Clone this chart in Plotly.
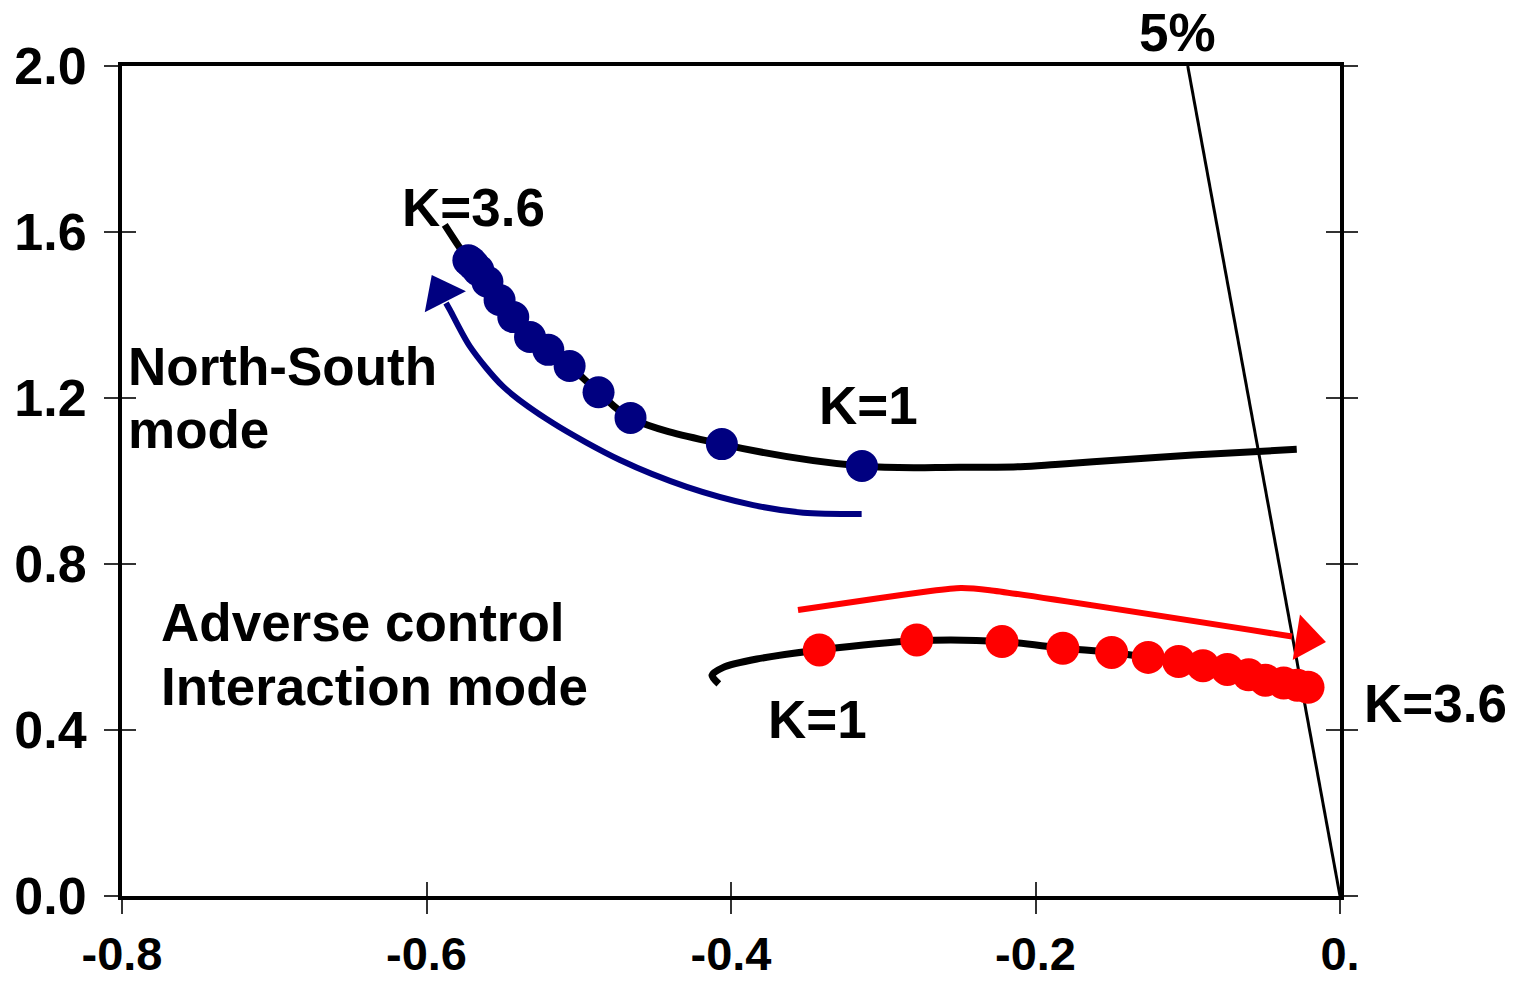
import plotly.graph_objects as go

# ---------------- data ----------------
# North-South mode eigenvalue locus, K = 1.0 ... 3.6 (step 0.2)
ns_x = [-0.314, -0.406, -0.466, -0.487, -0.506, -0.520, -0.532, -0.543,
        -0.552, -0.560, -0.566, -0.569, -0.571, -0.5725]
ns_y = [1.036, 1.089, 1.152, 1.214, 1.277, 1.316, 1.347, 1.395,
        1.436, 1.480, 1.508, 1.520, 1.528, 1.532]
# full locus curve (K beyond marker range)
ns_curve_x = [-0.0284, -0.0966, -0.1622, -0.187, -0.2100, -0.2496, -0.314, -0.406,
              -0.466, -0.487, -0.506, -0.520, -0.532, -0.543, -0.552, -0.560,
              -0.566, -0.5715, -0.588]
ns_curve_y = [1.0764, 1.0627, 1.0465, 1.040, 1.0345, 1.033, 1.036, 1.089,
              1.152, 1.214, 1.277, 1.316, 1.347, 1.395, 1.436, 1.480,
              1.508, 1.528, 1.617]

# Adverse control interaction mode locus, K = 1.0 ... 3.6
ac_x = [-0.342, -0.278, -0.222, -0.182, -0.150, -0.126, -0.106, -0.090,
        -0.074, -0.060, -0.049, -0.037, -0.028, -0.021]
ac_y = [0.593, 0.617, 0.613, 0.597, 0.587, 0.575, 0.565, 0.555,
        0.546, 0.533, 0.520, 0.513, 0.508, 0.503]
ac_curve_x = [-0.408, -0.4125, -0.405, -0.383, -0.342, -0.278, -0.222, -0.182,
              -0.150, -0.126, -0.106, -0.090, -0.074, -0.060, -0.049, -0.037,
              -0.028, -0.021]
ac_curve_y = [0.511, 0.532, 0.551, 0.571, 0.593, 0.615, 0.613, 0.597,
              0.587, 0.575, 0.565, 0.555, 0.546, 0.533, 0.520, 0.513,
              0.508, 0.503]

# direction arrows (shaft points and arrowhead centre)
ns_arrow_x = [-0.3142, -0.3525, -0.3854, -0.4291, -0.4729, -0.5167, -0.5496,
              -0.5714, -0.5846, -0.5872]
ns_arrow_y = [0.9205, 0.9236, 0.942, 0.986, 1.0506, 1.139, 1.2273,
              1.3237, 1.412, 1.429]
ns_head_x = [-0.5906]
ns_head_y = [1.4535]

ac_arrow_x = [-0.356, -0.302, -0.269, -0.249, -0.230, -0.0315]
ac_arrow_y = [0.689, 0.718, 0.735, 0.742, 0.737, 0.6253]
ac_head_x = [-0.0222]
ac_head_y = [0.6198]

# 5% damping line
damp_x = [0.0, -0.1]
damp_y = [0.0, 2.0]

x_ticks = [-0.8, -0.6, -0.4, -0.2, 0.0]
x_ticktext = ["-0.8", "-0.6", "-0.4", "-0.2", "0."]
y_ticks = [0.0, 0.4, 0.8, 1.2, 1.6, 2.0]
y_ticktext = ["0.0", "0.4", "0.8", "1.2", "1.6", "2.0"]

BLUE = "#000080"
RED = "#ff0000"
FONT = "Liberation Sans, Arial, sans-serif"

fig = go.Figure()

fig.add_trace(go.Scatter(x=damp_x, y=damp_y, mode="lines",
                         line=dict(color="black", width=3), hoverinfo="skip"))

fig.add_trace(go.Scatter(x=ns_curve_x, y=ns_curve_y, mode="lines",
                         line=dict(color="black", width=7, shape="spline", smoothing=1.0)))
fig.add_trace(go.Scatter(x=ac_curve_x, y=ac_curve_y, mode="lines",
                         line=dict(color="black", width=7, shape="spline", smoothing=0.8)))

fig.add_trace(go.Scatter(x=ns_arrow_x, y=ns_arrow_y, mode="lines",
                         line=dict(color=BLUE, width=6, shape="spline", smoothing=0.8)))
fig.add_trace(go.Scatter(x=ns_head_x, y=ns_head_y, mode="markers",
                         marker=dict(symbol="triangle-up", size=40, color=BLUE, opacity=1,
                                     angle=-27, line=dict(width=0))))
fig.add_trace(go.Scatter(x=ac_arrow_x, y=ac_arrow_y, mode="lines",
                         line=dict(color=RED, width=6, shape="spline", smoothing=0.5)))
fig.add_trace(go.Scatter(x=ac_head_x, y=ac_head_y, mode="markers",
                         marker=dict(symbol="triangle-up", size=40, color=RED, opacity=1,
                                     angle=99, line=dict(width=0))))

fig.add_trace(go.Scatter(x=ns_x, y=ns_y, mode="markers",
                         marker=dict(color=BLUE, size=32, opacity=1, line=dict(width=0))))
fig.add_trace(go.Scatter(x=ac_x, y=ac_y, mode="markers",
                         marker=dict(color=RED, size=33, opacity=1, line=dict(width=0))))

tf = dict(family=FONT, size=53, color="black", weight="bold")


def label(text, x, y, xanchor="center", xref="x", yref="y"):
    fig.add_annotation(text=text, x=x, y=y, xref=xref, yref=yref, showarrow=False,
                       xanchor=xanchor, yanchor="middle", font=tf)


label("K=3.6", -0.569, 1.660)
label("K=1", -0.310, 1.181)
label("North-South", -0.7975, 1.275, "left")
label("mode", -0.7975, 1.123, "left")
label("Adverse control", -0.7756, 0.658, "left")
label("Interaction mode", -0.7756, 0.504, "left")
label("K=1", -0.343, 0.4265)
label("K=3.6", 1.078, 0.465, xref="paper")
label("5%", -0.107, 1.0398, yref="paper")

xtickfont = dict(family=FONT, size=47, color="black", weight="bold")
ytickfont = dict(family=FONT, size=52, color="black", weight="bold")

fig.update_layout(
    width=1525, height=985,
    margin=dict(l=122, r=185, t=66, b=89),
    paper_bgcolor="white", plot_bgcolor="white",
    showlegend=False,
    xaxis=dict(range=[-0.8, 0.0], showline=True, linewidth=4, linecolor="black",
               mirror=True, ticks="outside", ticklen=14, tickwidth=2, tickcolor="#333",
               tickvals=x_ticks, ticktext=x_ticktext, tickfont=xtickfont,
               ticklabelstandoff=0, showgrid=False, zeroline=False, automargin=False),
    xaxis2=dict(range=[-0.8, 0.0], overlaying="x", anchor="y", side="bottom",
                ticks="inside", ticklen=14, tickwidth=2, tickcolor="#333",
                tickvals=x_ticks, showticklabels=False, showline=False,
                showgrid=False, zeroline=False, automargin=False),
    yaxis=dict(range=[0.0, 2.0], showline=True, linewidth=4, linecolor="black",
               mirror="ticks", ticks="outside", ticklen=14, tickwidth=2, tickcolor="#333",
               tickvals=y_ticks, ticktext=y_ticktext, tickfont=ytickfont,
               ticklabelstandoff=7, showgrid=False, zeroline=False, automargin=False),
    yaxis2=dict(range=[0.0, 2.0], overlaying="y", anchor="x", side="left",
                mirror="ticks", ticks="inside", ticklen=14, tickwidth=2, tickcolor="#333",
                tickvals=y_ticks, showticklabels=False, showline=False,
                showgrid=False, zeroline=False, automargin=False),
)

# dummy traces so that the overlay axes are drawn
fig.add_trace(go.Scatter(x=[None], y=[None], xaxis="x2", yaxis="y", showlegend=False))
fig.add_trace(go.Scatter(x=[None], y=[None], xaxis="x", yaxis="y2", showlegend=False))

fig.write_html("out.html")
